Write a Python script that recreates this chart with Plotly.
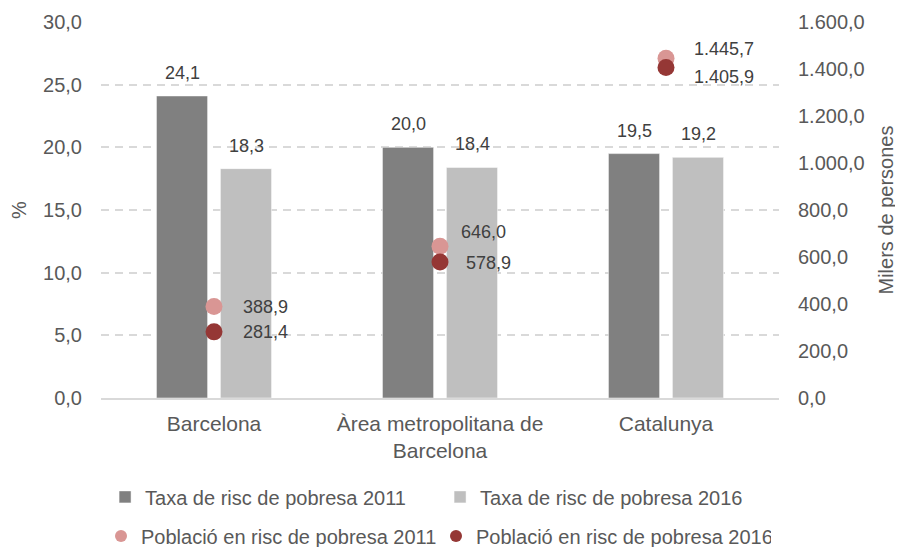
import plotly.graph_objects as go

categories = ["Barcelona", "Àrea metropolitana de<br>Barcelona", "Catalunya"]
taxa_2011 = [24.1, 20.0, 19.5]
taxa_2016 = [18.3, 18.4, 19.2]
poblacio_2011 = [388.9, 646.0, 1445.7]
poblacio_2016 = [281.4, 578.9, 1405.9]

# label offsets (px) for the population points
shift_2011 = [(27, 0), (19, 14), (26, 9)]
shift_2016 = [(27, 0), (24, -1), (26, -9)]

font_family = "Liberation Sans, Arial, sans-serif"
axis_color = "#595959"
label_color = "#404040"
grid_color = "#D9D9D9"


def fmt(v):
    # catalan number format: 1.445,7
    return f"{v:,.1f}".replace(",", "X").replace(".", ",").replace("X", ".")


fig = go.Figure()

fig.add_trace(go.Bar(
    x=categories, y=taxa_2011, name="Taxa de risc de pobresa 2011",
    marker_color="#808080", legend="legend"
))
fig.add_trace(go.Bar(
    x=categories, y=taxa_2016, name="Taxa de risc de pobresa 2016",
    marker_color="#BFBFBF", legend="legend"
))
fig.add_trace(go.Scatter(
    x=categories, y=poblacio_2011, name="Població en risc de pobresa 2011",
    mode="markers", yaxis="y2", legend="legend2",
    marker=dict(color="#D99694", size=17), cliponaxis=False
))
fig.add_trace(go.Scatter(
    x=categories, y=poblacio_2016, name="Població en risc de pobresa 2016",
    mode="markers", yaxis="y2", legend="legend2",
    marker=dict(color="#953735", size=17), cliponaxis=False
))

# bar value labels, a little above each bar
for vals, dx in [(taxa_2011, -32), (taxa_2016, 32)]:
    for cat, v in zip(categories, vals):
        fig.add_annotation(
            x=cat, y=v, xref="x", yref="y", text=fmt(v), showarrow=False,
            xanchor="center", yanchor="middle", xshift=dx, yshift=23,
            font=dict(size=18, color=label_color)
        )

for vals, shifts in [(poblacio_2011, shift_2011), (poblacio_2016, shift_2016)]:
    for cat, v, (dx, dy) in zip(categories, vals, shifts):
        fig.add_annotation(
            x=cat, y=v, xref="x", yref="y2", text=fmt(v), showarrow=False,
            xanchor="left", yanchor="middle", xshift=dx, yshift=dy,
            font=dict(size=18, color=label_color)
        )

# the page body adds an 8px margin, so the figure is 8px smaller
fig.update_layout(
    width=895, height=539,
    margin=dict(l=93, r=124, t=14, b=149, autoexpand=False),
    template="plotly_white",
    plot_bgcolor="white", paper_bgcolor="white",
    separators=",.",
    font=dict(family=font_family, size=20, color=axis_color),
    barmode="group", bargap=0.434, bargroupgap=0.2,
    xaxis=dict(showline=True, linecolor=grid_color, linewidth=1.5, showgrid=False,
               automargin=False, ticklabelstandoff=6,
               tickfont=dict(size=21, color=axis_color)),
    yaxis=dict(range=[0, 30], dtick=5, tickformat=".1f", showgrid=True,
               gridcolor=grid_color, griddash="8px,6px", gridwidth=1.5, zeroline=False,
               automargin=False, ticklabelstandoff=18,
               tickfont=dict(size=20, color=axis_color),
               title=dict(text="%", font=dict(size=20, color=axis_color), standoff=12)),
    yaxis2=dict(range=[0, 1600], dtick=200, tickformat=",.1f", overlaying="y", side="right",
                showgrid=False, zeroline=False, automargin=False, ticklabelstandoff=18,
                tickfont=dict(size=20, color=axis_color),
                title=dict(text="Milers de persones", font=dict(size=20, color=axis_color),
                           standoff=15)),
    legend=dict(orientation="h", x=0.006, xanchor="left", y=-0.263, yanchor="middle",
                entrywidth=290, font=dict(size=20, color=axis_color),
                bgcolor="rgba(0,0,0,0)"),
    legend2=dict(orientation="h", x=0.0, xanchor="left", y=-0.367, yanchor="middle",
                 entrywidth=290, itemsizing="constant", font=dict(size=20, color=axis_color),
                 bgcolor="rgba(0,0,0,0)"),
    showlegend=True
)

fig.write_html("out.html")
